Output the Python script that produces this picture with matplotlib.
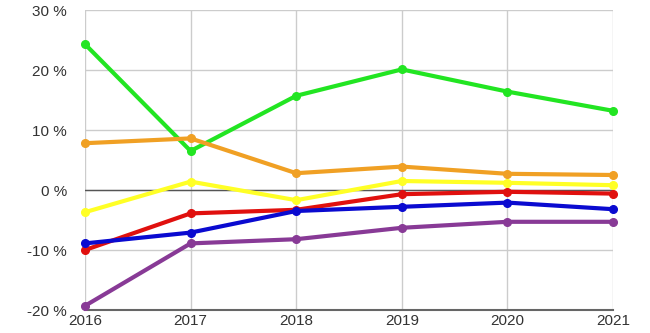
import matplotlib
matplotlib.use("Agg")
import matplotlib.pyplot as plt
from matplotlib.ticker import FuncFormatter

years = [2016, 2017, 2018, 2019, 2020, 2021]
green = [24.3, 6.5, 15.7, 20.1, 16.4, 13.2]
orange = [7.8, 8.6, 2.8, 3.9, 2.7, 2.5]
yellow = [-3.7, 1.4, -1.7, 1.5, 1.2, 0.8]
red = [-10.0, -3.9, -3.3, -0.7, -0.3, -0.6]
blue = [-8.9, -7.1, -3.5, -2.8, -2.1, -3.2]
purple = [-19.3, -8.9, -8.2, -6.3, -5.3, -5.3]
yticks = [-20, -10, 0, 10, 20, 30]

plt.rcParams['font.family'] = ['Liberation Sans', 'DejaVu Sans']

fig = plt.figure(figsize=(6.5, 3.33), dpi=100)
ax = fig.add_axes([85/650, 1-310/333, (613-85)/650, 300/333])

series = [
    (green, '#22e522'),
    (orange, '#f0a024'),
    (yellow, '#ffff26'),
    (red, '#e0100e'),
    (blue, '#0a0ad0'),
    (purple, '#883a96'),
]
for vals, col in series:
    ax.plot(years, vals, color=col, lw=3.0, marker='o', ms=5.5,
            solid_joinstyle='round', solid_capstyle='round', zorder=3, clip_on=False)

ax.set_xlim(years[0], years[-1])
ax.set_ylim(yticks[0], yticks[-1])
ax.set_xticks(years)
ax.set_yticks(yticks)
ax.yaxis.set_major_formatter(FuncFormatter(lambda v, p: f"{int(v)} %"))
ax.grid(True, color='#cccccc', lw=1.0, zorder=0)
ax.axhline(0, color='#555555', lw=1.0, zorder=2.7)
for s in ['top', 'right', 'left']:
    ax.spines[s].set_visible(False)
ax.spines['bottom'].set_color('#666666')
ax.spines['bottom'].set_linewidth(1.5)
ax.tick_params(length=0, labelsize=11, colors='#333333')
ax.tick_params(axis='y', pad=13)
ax.tick_params(axis='x', pad=3)

fig.savefig('out.png', dpi=100)
